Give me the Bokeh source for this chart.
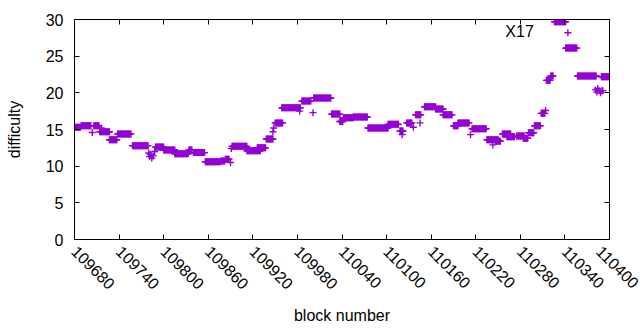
import numpy as np
from bokeh.plotting import figure
from bokeh.models import Range1d, LinearAxis, FixedTicker, Label, BasicTickFormatter
from bokeh.embed import file_html
from bokeh.resources import INLINE

# Runs of constant difficulty: (first block, last block, difficulty)
run_start = [109680, 109689, 109704, 109706, 109716, 109714, 109727, 109738, 109758,
             109780, 109781, 109782, 109784, 109786, 109788,
             109789, 109800, 109815, 109834, 109840, 109856, 109877, 109883, 109890,
             109891, 109892, 109912, 109926, 109938, 109947, 109948, 109950, 109959,
             109983, 109986, 110001, 110002, 110026, 110037, 110042, 110055, 110075,
             110102, 110118, 110121, 110127, 110136, 110139, 110145, 110151, 110166,
             110176, 110190, 110196, 110213, 110215, 110235, 110243, 110247, 110256,
             110262, 110275, 110284, 110291, 110299, 110308, 110314, 110315, 110321,
             110326, 110344, 110341, 110357,
             110381, 110383, 110384, 110386, 110388, 110390,
             110389]
run_end = [109688, 109702, 109704, 109713, 109716, 109727, 109737, 109756, 109779,
           109780, 109781, 109782, 109784, 109786, 109788,
           109800, 109815, 109833, 109838, 109855, 109876, 109882, 109888, 109890,
           109891, 109912, 109930, 109937, 109947, 109947, 109948, 109960, 109984,
           109983, 109998, 110001, 110025, 110037, 110041, 110055, 110074, 110102,
           110116, 110122, 110121, 110134, 110136, 110146, 110145, 110166, 110176,
           110188, 110196, 110211, 110213, 110234, 110250, 110243, 110253, 110267,
           110272, 110285, 110290, 110298, 110307, 110313, 110314, 110320, 110324,
           110341, 110344, 110356, 110382,
           110381, 110383, 110384, 110386, 110388, 110391,
           110400]
run_diff = [15.3, 15.5, 14.6, 15.5, 15.2, 14.7, 13.6, 14.4, 12.8,
            11.8, 11.3, 11.6, 11.1, 11.4, 12.0,
            12.6, 12.2, 11.7, 12.2, 11.85, 10.6, 10.7, 10.95, 10.5,
            12.4, 12.7, 12.1, 12.5, 13.7, 14.7, 15.2, 15.9, 17.95,
            17.5, 18.9, 17.3, 19.3, 17.1, 16.1, 16.6, 16.7, 15.2,
            15.7, 14.8, 14.3, 15.9, 15.3, 17.0, 15.9, 18.1, 17.8,
            17.0, 15.5, 15.9, 14.3, 15.1, 13.6, 12.9, 13.4, 14.4,
            14.0, 14.1, 13.8, 14.55, 15.5, 17.2, 17.6, 21.7, 22.3,
            29.7, 28.2, 26.1, 22.3,
            20.4, 20.1, 20.6, 20.3, 20.0, 20.3,
            22.2]

x_ticks = [109680, 109740, 109800, 109860, 109920, 109980, 110040,
           110100, 110160, 110220, 110280, 110340, 110400]
y_ticks = [0, 5, 10, 15, 20, 25, 30]

blocks = np.concatenate([np.arange(s, e + 1) for s, e in zip(run_start, run_end)])
diffs = np.concatenate([np.full(e - s + 1, d) for s, e, d in zip(run_start, run_end, run_diff)])

FONT = "Liberation Sans"
COLOR = "#9400d3"

p = figure(width=640, height=330, output_backend="svg", toolbar_location=None,
           x_range=Range1d(x_ticks[0], x_ticks[-1]), y_range=Range1d(y_ticks[0], y_ticks[-1]),
           min_border_left=74, min_border_right=31, min_border_top=19, min_border_bottom=91,
           x_axis_label="block number", y_axis_label="difficulty")
p.xgrid.visible = False
p.ygrid.visible = False
p.outline_line_color = "black"
p.outline_line_width = 1
p.background_fill_color = "white"
p.border_fill_color = "white"

def style_axis(ax, ticks, show_labels):
    ax.ticker = FixedTicker(ticks=ticks)
    ax.formatter = BasicTickFormatter(use_scientific=False)
    ax.major_tick_in = 5
    ax.major_tick_out = 0
    ax.minor_tick_line_color = None
    ax.axis_line_color = "black"
    ax.major_tick_line_color = "black"
    ax.major_label_text_font = FONT
    ax.major_label_text_font_size = "16px"
    ax.major_label_text_color = "black"
    if not show_labels:
        ax.major_label_overrides = {t: "" for t in ticks}
        ax.major_label_standoff = 0
    ax.axis_label_text_font = FONT
    ax.axis_label_text_font_size = "16px"
    ax.axis_label_text_font_style = "normal"
    ax.axis_label_text_color = "black"

style_axis(p.xaxis[0], x_ticks, True)
style_axis(p.yaxis[0], y_ticks, True)
p.xaxis[0].major_label_orientation = -np.pi / 4
p.xaxis[0].major_label_standoff = 9
p.xaxis[0].axis_label_standoff = 9
p.yaxis[0].major_label_standoff = 11
p.yaxis[0].axis_label_standoff = 20

top = LinearAxis()
style_axis(top, x_ticks, False)
p.add_layout(top, "above")
right = LinearAxis()
style_axis(right, y_ticks, False)
p.add_layout(right, "right")

p.scatter(blocks, diffs, marker="cross", size=7, line_color=COLOR, line_width=1.4)

p.add_layout(Label(x=110279, y=28.4, text="X17", text_font=FONT, text_font_size="16px",
                   text_color="black", text_align="center", text_baseline="middle"))

open("out.html", "w").write(file_html(p, INLINE))
